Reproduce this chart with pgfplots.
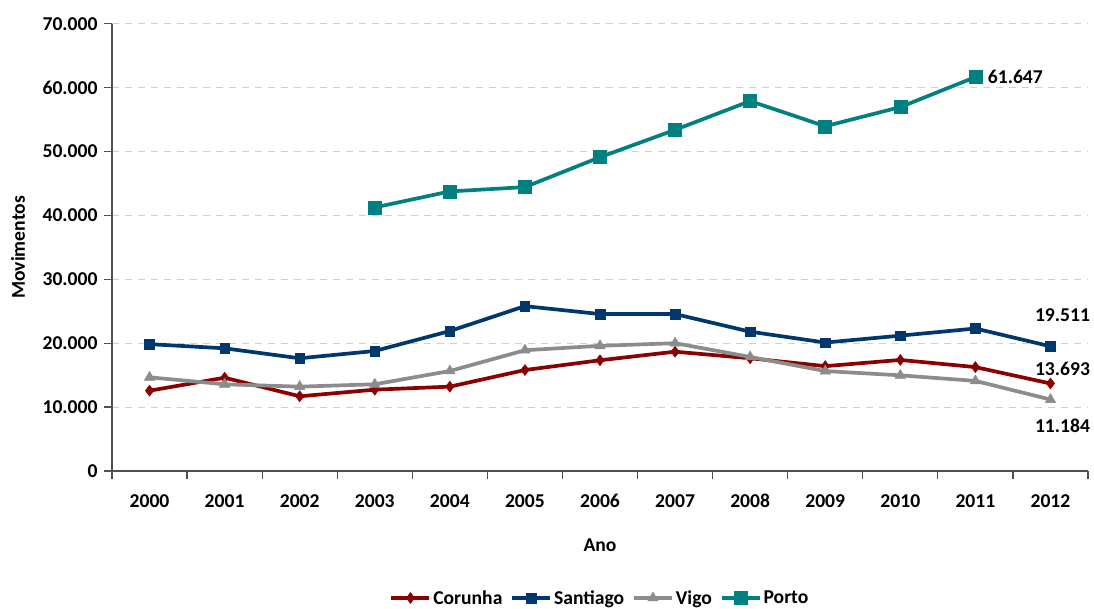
\documentclass[border=0pt]{standalone}
\usepackage{fontspec}
\setmainfont{Carlito}
\usepackage{pgfplots}
\pgfplotsset{compat=1.18}

\definecolor{corunha}{RGB}{139,0,0}
\definecolor{santiago}{RGB}{0,56,110}
\definecolor{vigo}{RGB}{140,140,140}
\definecolor{porto}{RGB}{0,128,128}
\definecolor{gridgray}{RGB}{208,208,208}
\definecolor{axisgray}{RGB}{80,80,80}

\newcommand\cf{\fontsize{19.6}{23}\selectfont\bfseries}

\begin{document}
\begin{tikzpicture}
\begin{axis}[
  scale only axis,
  width=976pt, height=447.3pt,
  xmin=-0.5, xmax=12.5,
  ymin=0, ymax=70000,
  axis x line*=bottom, axis y line*=left,
  axis line style={draw=axisgray, line width=1.2pt},
  tick align=outside,
  major tick length=8pt, minor tick length=8pt,
  tick style={draw=axisgray, line width=1.2pt},
  xtick={0,...,12},
  xticklabels={2000,2001,2002,2003,2004,2005,2006,2007,2008,2009,2010,2011,2012},
  major x tick style={draw=none},
  minor xtick={-0.5,0.5,...,12.5},
  ytick={0,10000,...,70000},
  scaled y ticks=false,
  /pgf/number format/.cd, fixed, 1000 sep={.}, assume math mode=true,
  /pgfplots/.cd,
  ymajorgrids,
  grid style={draw=gridgray, dash pattern=on 7pt off 6pt, line width=1pt},
  tick label style={font=\cf},
  xticklabel style={anchor=center, yshift=-22pt},
  yticklabel style={xshift=-3pt},
  xlabel={Ano}, ylabel={Movimentos},
  label style={font=\cf},
  xlabel style={at={(axis description cs:0.5,0)}, anchor=center, yshift=-74pt},
  ylabel style={at={(axis description cs:0,0.5)}, anchor=center, rotate=0, yshift=94pt},
  clip=false,
  legend columns=4,
  legend style={at={(axis description cs:0.5,0)}, anchor=center, yshift=-127pt,
    draw=none, font=\cf, inner sep=0pt,
    /tikz/every even column/.append style={column sep=6pt}},
  legend image code/.code={\draw[mark repeat=2, mark phase=2]
    plot coordinates {(0pt,0pt) (19pt,0pt) (38pt,0pt)};},
]

\addplot[color=corunha, line width=3.7pt, mark=diamond*, mark size=5.5pt,
  mark options={solid, line width=0.5pt}]
  coordinates {(0,12570) (1,14600) (2,11690) (3,12730) (4,13200) (5,15800)
    (6,17330) (7,18670) (8,17640) (9,16410) (10,17380) (11,16260) (12,13693)};
\addlegendentry{Corunha}

\addplot[color=santiago, line width=3.7pt, mark=square*, mark size=4.8pt,
  mark options={solid, line width=0.5pt}]
  coordinates {(0,19850) (1,19200) (2,17640) (3,18780) (4,21900) (5,25800)
    (6,24560) (7,24560) (8,21800) (9,20100) (10,21180) (11,22300) (12,19511)};
\addlegendentry{Santiago}

\addplot[color=vigo, line width=3.7pt, mark=triangle*, mark size=6pt,
  mark options={solid, line width=0.5pt}]
  coordinates {(0,14660) (1,13570) (2,13200) (3,13570) (4,15650) (5,18900)
    (6,19590) (7,20000) (8,17850) (9,15640) (10,14970) (11,14100) (12,11184)};
\addlegendentry{Vigo}

\addplot[color=porto, line width=3.7pt, mark=square*, mark size=6.5pt,
  mark options={solid, line width=0.5pt}]
  coordinates {(3,41250) (4,43750) (5,44430) (6,49110) (7,53390) (8,57890)
    (9,53950) (10,56950) (11,61647)};
\addlegendentry{Porto}

\node[font=\cf, anchor=west, xshift=9pt] at (axis cs:11,61647) {61.647};
\node[font=\cf, anchor=center] at (axis cs:12.16,24413) {19.511};
\node[font=\cf, anchor=center] at (axis cs:12.16,15962) {13.693};
\node[font=\cf, anchor=center] at (axis cs:12.16,7042) {11.184};
\end{axis}
\pgfresetboundingbox
\path[use as bounding box]
  ([shift={(-112pt,-138pt)}]current axis.south west) rectangle
  ([shift={(982pt,471pt)}]current axis.south west);
\end{tikzpicture}
\end{document}
